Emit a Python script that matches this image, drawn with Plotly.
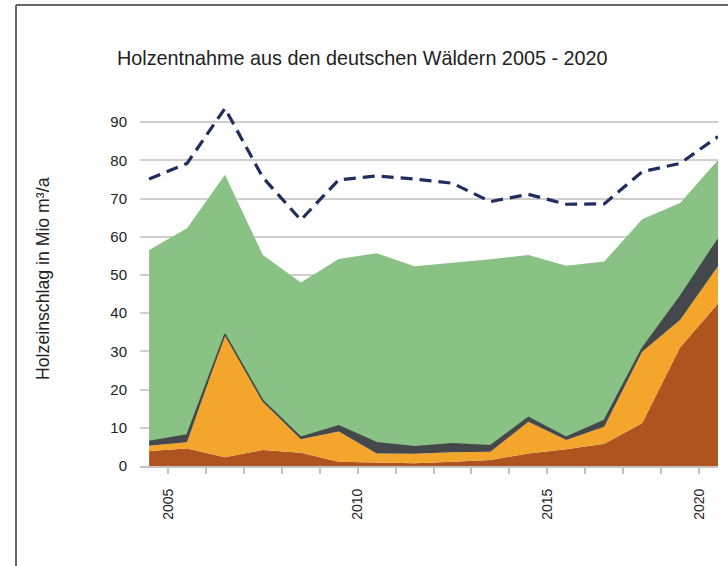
import plotly.graph_objects as go

# ---- data (Mio m³/a) ----
years = list(range(2005, 2021))
brown = [3.9, 4.6, 2.3, 4.2, 3.5, 1.1, 0.9, 0.7, 1.1, 1.6, 3.3, 4.4, 5.8, 11.2, 31.0, 42.5]
orange = [1.4, 1.6, 31.9, 12.6, 3.5, 7.9, 2.4, 2.5, 2.5, 2.1, 8.3, 2.4, 4.5, 18.7, 7.2, 9.8]
darkgray = [1.1, 1.9, 0.3, 0.3, 0.5, 1.5, 2.8, 1.8, 2.2, 1.6, 1.1, 0.7, 1.6, 0.9, 6.1, 7.0]
green = [50.1, 54.1, 41.7, 38.1, 40.5, 43.7, 49.6, 47.3, 47.4, 48.8, 42.5, 44.9, 41.6, 33.8, 24.5, 20.8]
dashed_total = [75.1, 79.2, 93.6, 75.5, 64.4, 74.9, 75.9, 75.1, 74.0, 69.2, 71.1, 68.5, 68.6, 77.0, 79.2, 86.2]

tick_labels = ["2005", "2010", "2015", "2020"]
tick_positions = [2005.5, 2010.5, 2015.5, 2019.5]
y_ticks = [0, 10, 20, 30, 40, 50, 60, 70, 80, 90]

title_text = "Holzentnahme aus den deutschen Wäldern 2005 - 2020"
ytitle_text = "Holzeinschlag in Mio m³/a"

FONT = "Liberation Sans, Arial, sans-serif"

fig = go.Figure()
layers = [
    (brown, "#B0541F", 0, "#B0541F"),
    (orange, "#F4A62C", 0, "#F4A62C"),
    (darkgray, "#45484B", 1.6, "#45484B"),
    (green, "#8AC286", 0, "#8AC286"),
]
for vals, col, lw, lc in layers:
    fig.add_trace(go.Scatter(
        x=years, y=vals, mode="lines", stackgroup="one",
        fillcolor=col, line=dict(width=lw, color=lc),
        hoverinfo="skip", showlegend=False,
    ))

fig.add_trace(go.Scatter(
    x=years, y=dashed_total, mode="lines",
    line=dict(color="#1F2E5E", width=3.2, dash="12px,7px"),
    showlegend=False, hoverinfo="skip", cliponaxis=False,
))

fig.update_layout(
    width=728, height=566,
    margin=dict(l=140, r=10, t=103, b=100),
    paper_bgcolor="white", plot_bgcolor="white",
    font=dict(family=FONT, color="#222222"),
    showlegend=False,
)

fig.update_xaxes(
    range=[2004.76, 2020.0],
    tickmode="array", tickvals=tick_positions, ticktext=tick_labels,
    tickangle=-90, tickfont=dict(size=14, color="#222222"),
    ticks="outside", ticklen=6, tickcolor="#c2c2c2", tickwidth=1.5,
    minor=dict(tickmode="linear", tick0=2005.5, dtick=1, ticks="outside",
               ticklen=6, tickcolor="#c2c2c2", tickwidth=1.5, showgrid=False),
    showgrid=False, showline=True, linecolor="#c4c4c4", linewidth=2,
    zeroline=False, ticklabelstandoff=9,
)
fig.update_yaxes(
    range=[0, 95],
    tickmode="array", tickvals=y_ticks,
    tickfont=dict(size=15, color="#222222"),
    showgrid=True, gridcolor="#cfcfcf", gridwidth=2,
    zeroline=False, showline=False, ticks="", ticklabelstandoff=12,
)

fig.add_annotation(
    text=title_text, xref="paper", yref="paper",
    x=(362 - 140) / 578, y=(466 - 58) / 363, xanchor="center", yanchor="middle",
    showarrow=False, font=dict(size=19.8, family=FONT, color="#222222"),
)
fig.add_annotation(
    text=ytitle_text, xref="paper", yref="paper",
    x=(43 - 140) / 578, y=(466 - 279) / 363, xanchor="center", yanchor="middle",
    textangle=-90, showarrow=False, font=dict(size=17.7, family=FONT, color="#222222"),
)

# outer frame (left and top edges visible)
fig.add_shape(type="line", xref="paper", yref="paper",
              x0=(16 - 140) / 578, x1=1.2, y0=(466 - 5) / 363, y1=(466 - 5) / 363,
              line=dict(color="#666666", width=2))
fig.add_shape(type="line", xref="paper", yref="paper",
              x0=(16 - 140) / 578, x1=(16 - 140) / 578, y0=-0.5, y1=(466 - 5) / 363,
              line=dict(color="#666666", width=2))

fig.write_html(
    "out.html",
    config={"displayModeBar": False},
    post_script="document.body.style.margin='0px';document.body.style.overflow='hidden';",
)
